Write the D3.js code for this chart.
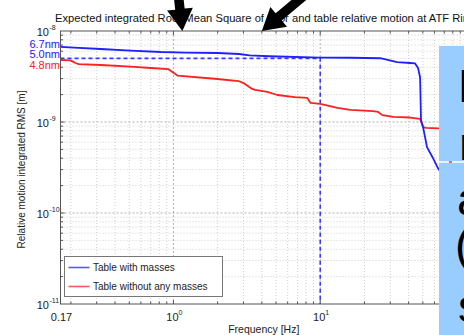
<!DOCTYPE html>
<html><head><meta charset="utf-8">
<script src="https://cdn.jsdelivr.net/npm/d3@7"></script>
<style>
html,body{margin:0;padding:0;background:#fff;overflow:hidden}
svg{display:block;font-family:"Liberation Sans",Arial,Helvetica,sans-serif}
</style></head><body>
<svg id="chart" width="464" height="335"></svg>
<script>
// Integrated RMS of the relative motion [m] against frequency [Hz]
const freqWithMasses = [0.17, 0.21, 0.32, 0.51, 0.82, 1.2, 2.0, 2.8, 3.3, 4.5, 10, 16, 25.6, 33.4, 40.9, 44.3, 46.4, 47.9, 48.6, 50.2, 53.4, 58.7, 63.5, 76];
const rmsWithMasses = [6.7e-9, 6.55e-9, 6.34e-9, 6.1e-9, 5.88e-9, 5.8e-9, 5.73e-9, 5.59e-9, 5.4e-9, 5.28e-9, 5.1e-9, 5.08e-9, 5.02e-9, 4.56e-9, 4.45e-9, 4.4e-9, 3.92e-9, 3.1e-9, 1.05e-9, 8.8e-10, 5.3e-10, 4.0e-10, 3.1e-10, 2.0e-10];

const freqNoMasses = [0.17, 0.199, 0.215, 0.226, 0.32, 0.51, 0.70, 0.92, 0.985, 1.065, 1.99, 2.77, 3.0, 3.4, 3.6, 4.36, 5.1, 6.7, 8.16, 8.6, 10, 13.1, 16, 22.9, 24.8, 26.5, 31.4, 40.9, 47.9, 50.2, 52.6, 63.5, 89];
const rmsNoMasses = [4.8e-9, 4.75e-9, 4.45e-9, 4.33e-9, 4.23e-9, 4.07e-9, 3.92e-9, 3.82e-9, 3.54e-9, 3.24e-9, 2.97e-9, 2.82e-9, 2.68e-9, 2.33e-9, 2.25e-9, 2.14e-9, 1.98e-9, 1.88e-9, 1.84e-9, 1.62e-9, 1.58e-9, 1.43e-9, 1.36e-9, 1.32e-9, 1.29e-9, 1.19e-9, 1.14e-9, 1.12e-9, 1.08e-9, 8.8e-10, 8.6e-10, 8.5e-10, 8.4e-10];

const seriesNames = ["Table with masses", "Table without any masses"];
const seriesColors = ["#2020ff", "#ff2020"];

// Reference levels written at the left edge
const levelValues = [6.7e-9, 5.0e-9, 4.8e-9];
const levelLabels = ["6.7nm", "5.0nm", "4.8nm"];
const levelColors = ["#2020ff", "#2020ff", "#ff2020"];
const levelOffsets = [-3, -4, 5];

// Integrated RMS above 10 Hz for the loaded table
const cutFreq = 10;
const cutLevel = 5.0e-9;

const xTickValues = [0.17, 1, 10];
const xTickBase = ["0.17", "10", "10"];
const xTickExp = ["", "0", "1"];
const yTickValues = [1e-11, 1e-10, 1e-9, 1e-8];
const yTickExp = ["-11", "-10", "-9", "-8"];

const titleText = "Expected integrated Root Mean Square of floor and table relative motion at ATF Ring";
const xLabel = "Frequency [Hz]";
const yLabel = "Relative motion integrated RMS [m]";

// Arrows pointing at the top of the plot: tip frequency, start offset (px)
const arrowFreqs = [1.15, 4.0];
const arrowStarts = [[-4, -36], [43, -36]];

// Slide text to the right of the figure
const sideGlyphs = ["M", "m", "a", "(", "s"];
const sideBaselines = [102, 160, 215, 261, 322];
const sideX = [458, 459, 457, 455, 458];

const svg = d3.select("#chart");
const W = 464, H = 335;
const L = 60.5, R = 467, T = 31, B = 304;

const x = d3.scaleLog().domain([0.17, 100]).range([L, R]);
const y = d3.scaleLog().domain([1e-11, 1e-8]).range([B, T]);

svg.append("rect").attr("width", W).attr("height", H).attr("fill", "#fff");

// grid
const xMinor = [], yMinor = [];
[0.1, 1, 10].forEach(d => { for (let k = 2; k <= 9; k++) { const v = k * d; if (v > 0.17 && v < 100) xMinor.push(v); } });
[1e-11, 1e-10, 1e-9].forEach(d => { for (let k = 2; k <= 9; k++) yMinor.push(k * d); });
const xMajor = [1, 10];
const yMajor = [1e-10, 1e-9];

const grid = svg.append("g");
grid.selectAll(".gxm").data(xMinor).join("line")
  .attr("x1", d => x(d)).attr("x2", d => x(d)).attr("y1", T).attr("y2", B)
  .attr("stroke", "#c4c4c4").attr("stroke-width", 0.8).attr("stroke-dasharray", "1,2");
grid.selectAll(".gym").data(yMinor).join("line")
  .attr("x1", L).attr("x2", R).attr("y1", d => y(d)).attr("y2", d => y(d))
  .attr("stroke", "#c4c4c4").attr("stroke-width", 0.8).attr("stroke-dasharray", "1,2");
grid.selectAll(".gxM").data(xMajor).join("line")
  .attr("x1", d => x(d)).attr("x2", d => x(d)).attr("y1", T).attr("y2", B)
  .attr("stroke", "#a8a8a8").attr("stroke-width", 0.9).attr("stroke-dasharray", "2,2");
grid.selectAll(".gyM").data(yMajor).join("line")
  .attr("x1", L).attr("x2", R).attr("y1", d => y(d)).attr("y2", d => y(d))
  .attr("stroke", "#a8a8a8").attr("stroke-width", 0.9).attr("stroke-dasharray", "2,2");

svg.append("clipPath").attr("id", "plotClip").append("rect")
  .attr("x", L).attr("y", T).attr("width", R - L).attr("height", B - T);
const plot = svg.append("g").attr("clip-path", "url(#plotClip)");

// 10 Hz cut marker
plot.append("path")
  .attr("d", `M${x(0.17)},${y(cutLevel)}H${x(cutFreq)}V${y(1e-11)}`)
  .attr("fill", "none").attr("stroke", "#3a3aff").attr("stroke-width", 1.6)
  .attr("stroke-dasharray", "4,3");

const line = d3.line().x(d => x(d[0])).y(d => y(d[1]));
plot.append("path").datum(d3.zip(freqNoMasses, rmsNoMasses)).attr("d", line)
  .attr("fill", "none").attr("stroke", seriesColors[1]).attr("stroke-width", 1.8).attr("stroke-linejoin", "round");
plot.append("path").datum(d3.zip(freqWithMasses, rmsWithMasses)).attr("d", line)
  .attr("fill", "none").attr("stroke", seriesColors[0]).attr("stroke-width", 1.8).attr("stroke-linejoin", "round");

// axes frame and ticks (inward, on all four sides)
const axisColor = "#555";
const ax = svg.append("g").attr("stroke", axisColor).attr("stroke-width", 1);
ax.append("rect").attr("x", L).attr("y", T).attr("width", R - L).attr("height", B - T).attr("fill", "none");
const xTickAll = xMinor.map(v => [v, 2.5]).concat(xMajor.map(v => [v, 4]));
const yTickAll = yMinor.map(v => [v, 2.5]).concat(yMajor.map(v => [v, 4]));
xTickAll.forEach(([v, len]) => {
  ax.append("line").attr("x1", x(v)).attr("x2", x(v)).attr("y1", B).attr("y2", B - len);
  ax.append("line").attr("x1", x(v)).attr("x2", x(v)).attr("y1", T).attr("y2", T + len);
});
yTickAll.forEach(([v, len]) => {
  ax.append("line").attr("x1", L).attr("x2", L + len).attr("y1", y(v)).attr("y2", y(v));
  ax.append("line").attr("x1", R).attr("x2", R - len).attr("y1", y(v)).attr("y2", y(v));
});

// tick labels
const lab = svg.append("g").attr("fill", "#222").attr("font-size", 11);
yTickValues.forEach((v, i) => {
  lab.append("text").attr("x", 49).attr("y", y(v) + 5).attr("text-anchor", "end").text("10");
  lab.append("text").attr("x", 49.5).attr("y", y(v) - 1).attr("font-size", 7).text(yTickExp[i]);
});
xTickValues.forEach((v, i) => {
  if (xTickExp[i] === "") {
    lab.append("text").attr("x", x(v) + 1).attr("y", 321).attr("text-anchor", "middle").text(xTickBase[i]);
  } else {
    lab.append("text").attr("x", x(v) - 1).attr("y", 321).attr("text-anchor", "middle").text(xTickBase[i]);
    lab.append("text").attr("x", x(v) + 5).attr("y", 315).attr("font-size", 7).text(xTickExp[i]);
  }
});

// axis titles
svg.append("text").attr("x", (L + R) / 2).attr("y", 333).attr("text-anchor", "middle")
  .attr("font-size", 10.5).attr("fill", "#222").text(xLabel);
svg.append("text").attr("transform", `translate(25,${(T + B) / 2 + 2}) rotate(-90)`)
  .attr("text-anchor", "middle").attr("font-size", 10).attr("fill", "#222").text(yLabel);

// level labels
levelValues.forEach((v, i) => {
  svg.append("text").attr("x", 60).attr("y", y(v) + levelOffsets[i] + 4)
    .attr("text-anchor", "end").attr("font-size", 11).attr("fill", levelColors[i]).text(levelLabels[i]);
});

// legend
const lg = svg.append("g").attr("transform", "translate(64.5,256.5)");
lg.append("rect").attr("width", 158).attr("height", 40).attr("fill", "#fff").attr("stroke", "#777");
seriesNames.forEach((name, i) => {
  const yy = 11 + i * 19;
  lg.append("line").attr("x1", 4).attr("x2", 25).attr("y1", yy).attr("y2", yy)
    .attr("stroke", seriesColors[i]).attr("stroke-width", 1.6).attr("opacity", 0.75);
  lg.append("text").attr("x", 28.5).attr("y", yy + 3.8).attr("font-size", 10).attr("fill", "#222").text(name);
});

// title
svg.append("text").attr("x", 55).attr("y", 21.5).attr("font-size", 11.2).attr("fill", "#111").text(titleText);

// arrows
function arrowPath(sx, sy, tx, ty, sw, hl, hw) {
  const dx = tx - sx, dy = ty - sy, len = Math.hypot(dx, dy);
  const ux = dx / len, uy = dy / len, px = -uy, py = ux;
  const bx = tx - ux * hl, by = ty - uy * hl;
  const pts = [
    [sx + px * sw / 2, sy + py * sw / 2],
    [bx + px * sw / 2, by + py * sw / 2],
    [bx + px * hw / 2, by + py * hw / 2],
    [tx, ty],
    [bx - px * hw / 2, by - py * hw / 2],
    [bx - px * sw / 2, by - py * sw / 2],
    [sx - px * sw / 2, sy - py * sw / 2]
  ];
  return "M" + pts.map(p => p.join(",")).join("L") + "Z";
}
arrowFreqs.forEach((f, i) => {
  const tx = x(f), ty = y(1e-8);
  svg.append("path")
    .attr("d", arrowPath(tx + arrowStarts[i][0], ty + arrowStarts[i][1], tx, ty, 9.5, 22, 26))
    .attr("fill", "#000");
});

// slide panel on the right
svg.append("rect").attr("x", 439).attr("y", 46).attr("width", 30).attr("height", 300).attr("fill", "#99ccff");
svg.append("line").attr("x1", 439).attr("x2", 464).attr("y1", 162).attr("y2", 162)
  .attr("stroke", "#fff").attr("stroke-width", 1.5);
svg.append("rect").attr("x", 449).attr("y", 161).attr("width", 3).attr("height", 2).attr("fill", "#ff6060");
sideGlyphs.forEach((g, i) => {
  svg.append("text").attr("x", sideX[i]).attr("y", sideBaselines[i])
    .attr("font-size", 47).attr("fill", "#000").text(g);
});
</script>
</body></html>
